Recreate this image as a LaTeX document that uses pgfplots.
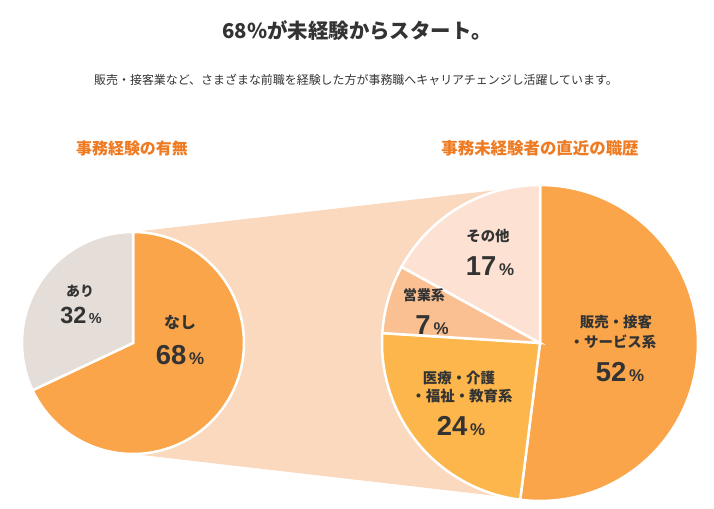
\documentclass[border=0pt]{standalone}
\usepackage{pgfplots}
\pgfplotsset{compat=1.18}
\usepackage{fontspec}
\setmainfont{Liberation Sans}
\newfontfamily\jp{Noto Sans CJK JP}
\definecolor{txt}{HTML}{333333}
\definecolor{head}{HTML}{EE7A22}
\definecolor{band}{HTML}{FAD9BE}
\definecolor{corange}{HTML}{FBA54A}
\definecolor{cyellow}{HTML}{FDB64B}
\definecolor{csalmon}{HTML}{FBC092}
\definecolor{clight}{HTML}{FDE2D3}
\definecolor{cgrey}{HTML}{E4DDD8}
\newcommand{\fs}[1]{\fontsize{#1}{#1}\selectfont}
\begin{document}
\begin{tikzpicture}
\begin{axis}[width=714bp,height=509bp,scale only axis,
  xmin=0,xmax=714,ymin=0,ymax=509,hide axis,clip=false]
% frame for the bounding box
\addplot[draw=none,fill=none] coordinates {(0,0) (714,0) (714,509) (0,509)} -- cycle;
% connecting band
\addplot[fill=band,draw=none] coordinates {(133,277) (540,324) (540,8) (133,55)} -- cycle;
% left pie: なし 68, あり 32 (clockwise from top)
\addplot[fill=corange,draw=white,line width=2.5bp,domain=-154.8:90,samples=80,variable=\t]
  ({133+111*cos(t)},{166+111*sin(t)}) -- (axis cs:133,166) -- cycle;
\addplot[fill=cgrey,draw=white,line width=2.5bp,domain=90:205.2,samples=40,variable=\t]
  ({133+111*cos(t)},{166+111*sin(t)}) -- (axis cs:133,166) -- cycle;
% right pie: 52, 24, 7, 17
\addplot[fill=corange,draw=white,line width=2.5bp,domain=-97.2:90,samples=80,variable=\t]
  ({540+158*cos(t)},{166+158*sin(t)}) -- (axis cs:540,166) -- cycle;
\addplot[fill=cyellow,draw=white,line width=2.5bp,domain=-183.6:-97.2,samples=40,variable=\t]
  ({540+158*cos(t)},{166+158*sin(t)}) -- (axis cs:540,166) -- cycle;
\addplot[fill=csalmon,draw=white,line width=2.5bp,domain=-208.8:-183.6,samples=20,variable=\t]
  ({540+158*cos(t)},{166+158*sin(t)}) -- (axis cs:540,166) -- cycle;
\addplot[fill=clight,draw=white,line width=2.5bp,domain=-270:-208.8,samples=30,variable=\t]
  ({540+158*cos(t)},{166+158*sin(t)}) -- (axis cs:540,166) -- cycle;
% titles
\node[text=txt,font=\jp\bfseries\fs{20.5}] at (axis cs:357,478) {68\%が未経験からスタート。};
\node[text=txt,font=\jp\fs{12}] at (axis cs:356,429) {販売・接客業など、さまざまな前職を経験した方が事務職へキャリアチェンジし活躍しています。};
\node[text=head,font=\jp\bfseries\fs{16}] at (axis cs:132,361) {事務経験の有無};
\node[text=head,font=\jp\bfseries\fs{16.5}] at (axis cs:540,361) {事務未経験者の直近の職歴};
% labels left
\node[text=txt,font=\jp\bfseries\fs{14}] at (axis cs:80,218) {あり};
\node[text=txt,font=\bfseries\fs{23.5}] at (axis cs:81,194) {32{\fs{14.5}\,\%}};
\node[text=txt,font=\jp\bfseries\fs{16}] at (axis cs:180,187) {なし};
\node[text=txt,font=\bfseries\fs{27.5}] at (axis cs:180,154) {68{\fs{17}\,\%}};
% labels right
\node[text=txt,font=\jp\bfseries\fs{14.5}] at (axis cs:488,273) {その他};
\node[text=txt,font=\bfseries\fs{27.5}] at (axis cs:490,243) {17{\fs{17}\,\%}};
\node[text=txt,font=\jp\bfseries\fs{14}] at (axis cs:424,214) {営業系};
\node[text=txt,font=\bfseries\fs{27.5}] at (axis cs:432,184) {7{\fs{17}\,\%}};
\node[text=txt,font=\jp\bfseries\fs{14.5}] at (axis cs:616,187) {販売・接客};
\node[text=txt,font=\jp\bfseries\fs{14.5}] at (axis cs:613,167) {・サービス系};
\node[text=txt,font=\bfseries\fs{27.5}] at (axis cs:620,137) {52{\fs{17}\,\%}};
\node[text=txt,font=\jp\bfseries\fs{14.5}] at (axis cs:459,131) {医療・介護};
\node[text=txt,font=\jp\bfseries\fs{14.5}] at (axis cs:462,113) {・福祉・教育系};
\node[text=txt,font=\bfseries\fs{27.5}] at (axis cs:461,83) {24{\fs{17}\,\%}};
\end{axis}
\end{tikzpicture}
\end{document}
